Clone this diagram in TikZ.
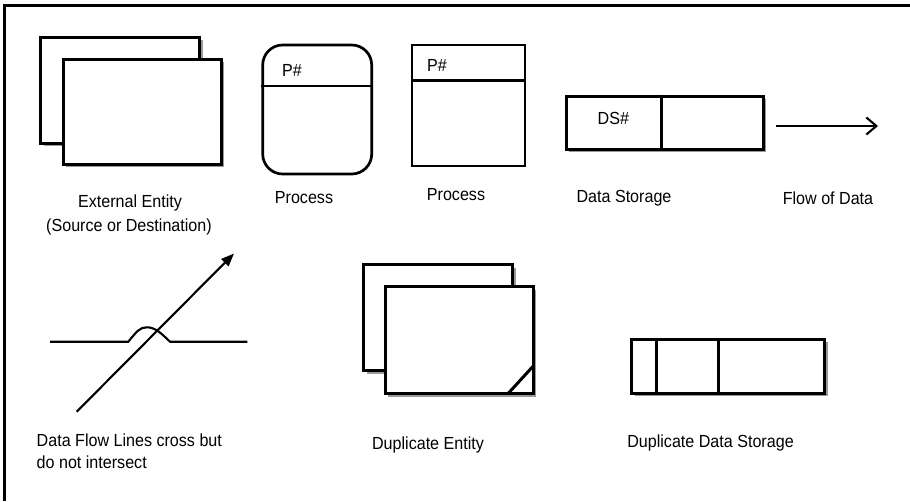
\documentclass[tikz,border=0pt]{standalone}
\usepackage{fontspec}
\setmainfont[FakeStretch=0.92]{Liberation Sans}
\usetikzlibrary{arrows.meta,shadows}
\begin{document}
\begin{tikzpicture}[x=1pt,y=-1pt,
  shp/.style={draw=black, line width=3pt, fill=white, inner sep=0pt},
  shd/.style={shp, drop shadow={shadow xshift=3pt, shadow yshift=-3pt, fill=black!40, opacity=1}},
  lbl/.style={inner sep=0pt, font=\fontsize{17.5}{22}\selectfont},
  thin/.style={line width=2.1pt}]
\useasboundingbox (0,0) rectangle (910,501);
\fill[white] (0,0) rectangle (910,501);
% frame
\coordinate (fb) at (4,501); \coordinate (ftl) at (4,5); \coordinate (ftr) at (910,5);
\draw[line width=3pt] (fb) -- (ftl) -- (ftr);
% External entity
\node[shd, minimum width=159pt, minimum height=106pt] (eeb) at (120,90) {};
\node[shd, minimum width=158pt, minimum height=105pt] (eef) at (142,111.5) {};
\node[lbl] (eel1) at (130,203) {External Entity};
\node[lbl] (eel2) at (129,227) {(Source or Destination)};
% Process rounded
\node[shp, line width=2.7pt, rounded corners=20pt, minimum width=109pt, minimum height=129pt] (pr1) at (317.2,109.5) {};
\draw[shp, line width=2.7pt] (pr1.west |- 0,86) -- (pr1.east |- 0,86);
\node[lbl] (pr1t) at (292,70) {P\#};
\node[lbl] (pr1l) at (304,198) {Process};
% Process square
\node[shp, line width=2.7pt, minimum width=113pt, minimum height=121pt] (pr2) at (468.6,105.5) {};
\draw[shp, line width=2.7pt] (pr2.west |- 0,80.7) -- (pr2.east |- 0,80.7);
\node[lbl] (pr2t) at (437,65) {P\#};
\node[lbl] (pr2l) at (456,195) {Process};
% Data storage
\node[shd, minimum width=197pt, minimum height=53pt] (ds) at (664.6,122.6) {};
\draw[shp] (661,0 |- ds.north) -- (661,0 |- ds.south);
\node[lbl] (dst) at (613.3,118) {DS\#};
\node[lbl] (dsl) at (624,198) {Data Storage};
% Flow of data
\coordinate (fa) at (776,126); \coordinate (fz) at (878,126);
\draw[thin, -{Straight Barb[length=10pt,width=17pt,line width=2.1pt]}] (fa) -- (fz);
\node[lbl] (fl) at (828,198) {Flow of Data};
% Crossing lines
\coordinate (h1) at (50,341.7); \coordinate (h2) at (128.3,341.7);
\coordinate (hp) at (147,327.3); \coordinate (h3) at (170,341.7); \coordinate (h4) at (247.3,341.7);
\draw[thin] (h1) -- (h2) .. controls (137,331) and (140,327.3) .. (hp) .. controls (155,327.3) and (161,333) .. (h3) -- (h4);
\coordinate (d1) at (76.7,411.7); \coordinate (d2) at (234,253.5);
\draw[thin, -{Triangle[length=13pt,width=10pt]}] (d1) -- (d2);
\node[lbl, anchor=west, align=left] (cl) at (36.5,451) {Data Flow Lines cross but\\do not intersect};
% Duplicate entity
\node[shd, minimum width=149pt, minimum height=106pt] (deb) at (438.3,317.8) {};
\node[shd, minimum width=148pt, minimum height=107pt] (def) at (459.2,340) {};
\coordinate (dc1) at (508.3,393.3); \coordinate (dc2) at (533.3,366);
\draw[shp] (dc1) -- (dc2);
\node[lbl] (del) at (428,445) {Duplicate Entity};
% Duplicate data storage
\node[shd, minimum width=193pt, minimum height=54pt] (dds) at (728.3,366.3) {};
\draw[shp] (656,0 |- dds.north) -- (656,0 |- dds.south);
\draw[shp] (718.3,0 |- dds.north) -- (718.3,0 |- dds.south);
\node[lbl] (ddsl) at (710.5,443) {Duplicate Data Storage};
\end{tikzpicture}
\end{document}
